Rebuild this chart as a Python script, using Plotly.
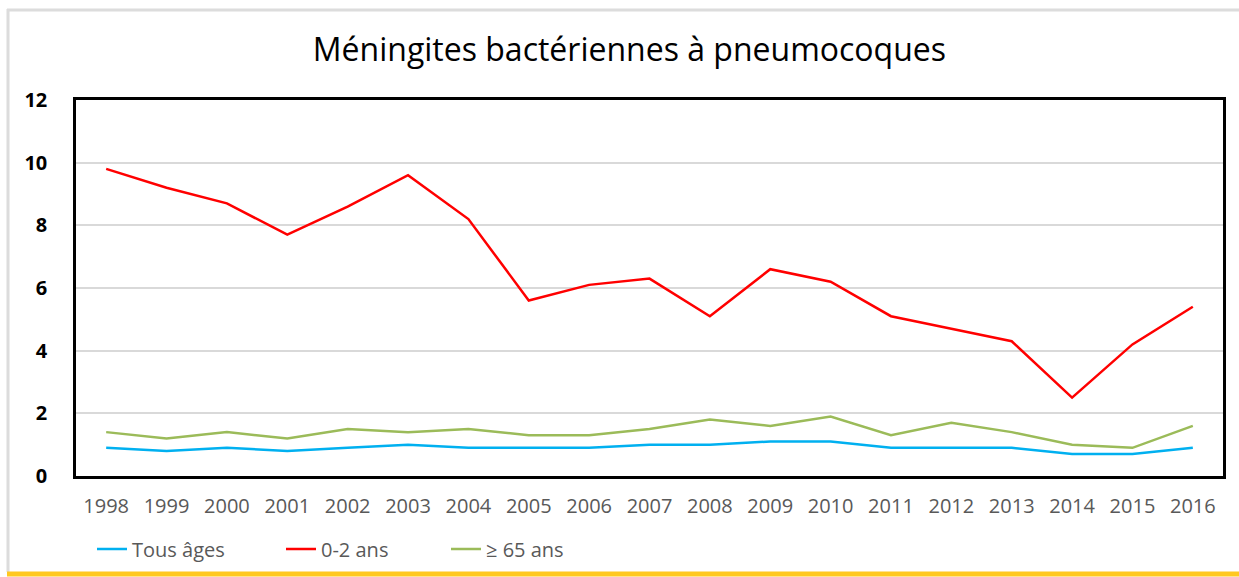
import plotly.graph_objects as go

years = [str(y) for y in range(1998, 2017)]
tous_ages = [0.9, 0.8, 0.9, 0.8, 0.9, 1.0, 0.9, 0.9, 0.9, 1.0, 1.0, 1.1, 1.1, 0.9, 0.9, 0.9, 0.7, 0.7, 0.9]
ans_0_2 = [9.8, 9.2, 8.7, 7.7, 8.6, 9.6, 8.2, 5.6, 6.1, 6.3, 5.1, 6.6, 6.2, 5.1, 4.7, 4.3, 2.5, 4.2, 5.4]
ans_65 = [1.4, 1.2, 1.4, 1.2, 1.5, 1.4, 1.5, 1.3, 1.3, 1.5, 1.8, 1.6, 1.9, 1.3, 1.7, 1.4, 1.0, 0.9, 1.6]
y_ticks = [0, 2, 4, 6, 8, 10, 12]

font = "Open Sans"

# plot area: x 76..1223, y 100..476 (px)
W, H = 1239, 577
L, R, T, B = 76, 1223, 100, 476


def px_x(v):
    return (v - L) / (R - L)


def px_y(v):
    return (B - v) / (B - T)


fig = go.Figure()
fig.add_trace(go.Scatter(x=years, y=tous_ages, name="Tous âges", mode="lines",
                         line=dict(color="#00B0F0", width=2.5), legend="legend"))
fig.add_trace(go.Scatter(x=years, y=ans_0_2, name="0-2 ans", mode="lines",
                         line=dict(color="#FF0000", width=2.5), legend="legend2"))
fig.add_trace(go.Scatter(x=years, y=ans_65, name="≥ 65 ans", mode="lines",
                         line=dict(color="#9BBB59", width=2.5), legend="legend3"))

leg = dict(orientation="h", xanchor="left", yanchor="middle", y=px_y(549),
           font=dict(family=font, size=20, color="#595959"),
           itemwidth=30, bgcolor="rgba(0,0,0,0)")

fig.update_layout(
    width=W, height=H,
    margin=dict(l=L, r=W - R, t=T, b=H - B, autoexpand=False),
    paper_bgcolor="white", plot_bgcolor="white",
    font=dict(family=font, color="#595959"),
    title=dict(text="Méningites bactériennes à pneumocoques", x=0.508, xanchor="center",
               y=1 - 50 / H, yanchor="middle",
               font=dict(family=font, size=32, color="#000000")),
    showlegend=True,
    legend=dict(leg, x=px_x(92)),
    legend2=dict(leg, x=px_x(281)),
    legend3=dict(leg, x=px_x(446)),
    shapes=[
        # outer frame
        dict(type="line", xref="paper", yref="paper", x0=px_x(7), x1=px_x(1239),
             y0=px_y(10), y1=px_y(10), line=dict(color="#dcdcdc", width=3)),
        dict(type="line", xref="paper", yref="paper", x0=px_x(8), x1=px_x(8),
             y0=px_y(9), y1=px_y(572), line=dict(color="#dcdcdc", width=3)),
        dict(type="line", xref="paper", yref="paper", x0=px_x(7), x1=px_x(1239),
             y0=px_y(574), y1=px_y(574), line=dict(color="#FFC820", width=5)),
    ],
)

fig.update_xaxes(
    type="category", range=[-0.5, len(years) - 0.5], automargin=False,
    showline=True, linecolor="#000000", linewidth=2.5, mirror=True,
    showgrid=False, ticks="", ticklabelstandoff=10,
    tickfont=dict(family=font, size=20, color="#595959"),
)
fig.update_yaxes(
    range=[0, 12], tickvals=y_ticks, automargin=False,
    showline=True, linecolor="#000000", linewidth=2.5, mirror=True,
    showgrid=True, gridcolor="#d9d9d9", gridwidth=2, zeroline=False,
    ticks="", ticklabelstandoff=22,
    tickfont=dict(family=font, size=20, color="#000000", weight="bold"),
)

fig.write_html("out.html", config={"displayModeBar": False},
               post_script="document.body.style.margin='0';document.body.style.overflow='hidden';")
